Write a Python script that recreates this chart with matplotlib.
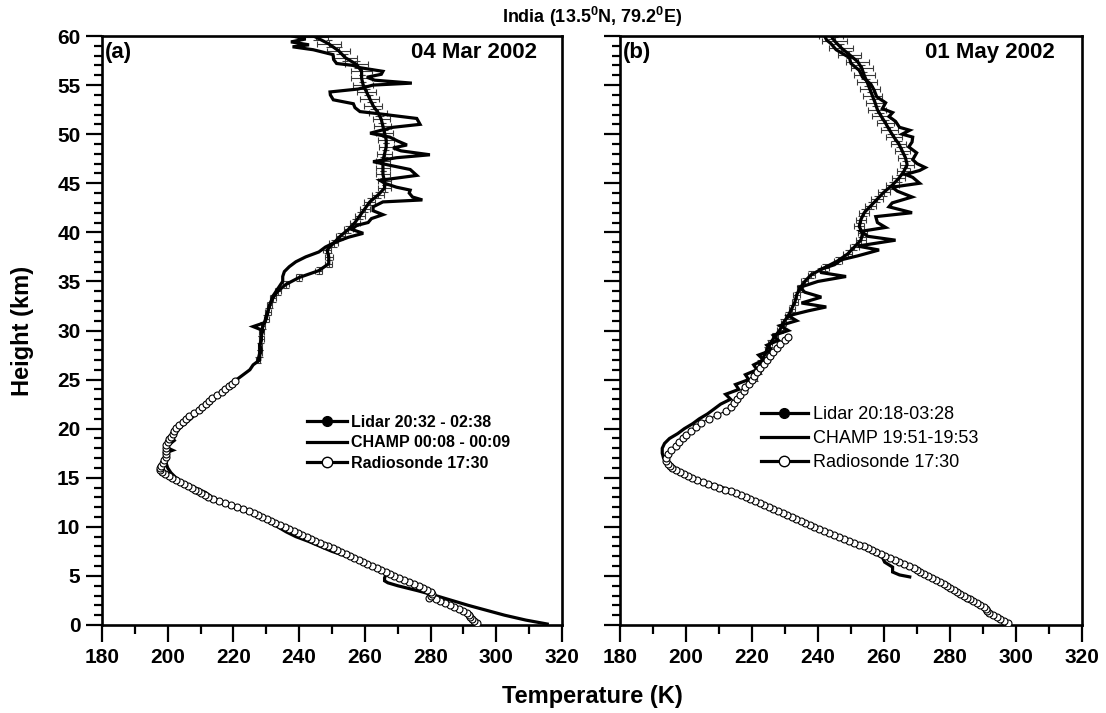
import matplotlib
matplotlib.use("Agg")
import matplotlib.pyplot as plt
from matplotlib.lines import Line2D
from matplotlib.ticker import MultipleLocator

plt.rcParams['font.family'] = ['Liberation Sans', 'DejaVu Sans']
plt.rcParams['mathtext.fontset'] = 'custom'
plt.rcParams['mathtext.bf'] = 'Liberation Sans:bold'
plt.rcParams['mathtext.rm'] = 'Liberation Sans:bold'

# ---------------- Panel (a) 04 Mar 2002 ----------------
radio_a_h = [0.2, 0.4, 0.6, 0.8, 1.0, 1.2, 1.4, 1.6, 1.8, 2.0, 2.2, 2.4, 2.6, 2.8, 3.0, 3.2, 3.4,
             3.6, 3.8, 4.0, 4.2, 4.4, 4.6, 4.8, 5.0, 5.2, 5.4, 5.6, 5.8, 6.0, 6.2, 6.4, 6.6, 6.8,
             7.0, 7.2, 7.4, 7.6, 7.8, 8.0, 8.2, 8.4, 8.6, 8.8, 9.0, 9.2, 9.4, 9.6, 9.8, 10.0,
             10.2, 10.4, 10.6, 10.8, 11.0, 11.2, 11.4, 11.6, 11.8, 12.0, 12.2, 12.4, 12.6, 12.8,
             13.0, 13.2, 13.4, 13.6, 13.8, 14.0, 14.2, 14.4, 14.6, 14.8, 15.0, 15.2, 15.4, 15.6,
             15.8, 16.0, 16.2, 16.5, 16.8, 17.1, 17.4, 17.7, 18.0, 18.3, 18.6, 18.9, 19.2, 19.5,
             19.8, 20.1, 20.4, 20.7, 21.0, 21.3, 21.6, 21.9, 22.2, 22.5, 22.8, 23.1, 23.4, 23.7,
             24.0, 24.3, 24.6, 24.9]
radio_a_t = [294, 293.3, 292.6, 292, 291.6, 291, 289.8, 288.5, 287.2, 285.8, 284.4, 283, 281.5,
             279.5, 280, 280.5, 280, 279, 277.8, 276.4, 275, 273.5, 272, 270.5, 269, 267.7, 266.4,
             265, 263.6, 262.2, 260.8, 259.5, 258.2, 256.8, 255.5, 254.2, 252.8, 251.5, 250.2,
             248.8, 247.5, 246.2, 244.8, 243.6, 242.4, 241, 239.7, 238.4, 237, 235.6, 234.3,
             232.8, 231.5, 230.2, 228.8, 227.5, 226.2, 224.7, 223, 221.2, 219.3, 217.3, 215.5,
             213.8, 212.4, 211.2, 210.2, 209.3, 208.4, 207.4, 206.3, 205, 203.6, 202.4, 201.3,
             200.3, 199.3, 198.4, 197.8, 197.8, 198, 198.5, 199, 199.5, 199.5, 199.5, 199.5,
             199.5, 200, 200.5, 201, 201.5, 202, 202.5, 203.5, 204.5, 205.5, 206.5, 208, 209.5,
             210.5, 211.5, 212.5, 213.5, 215, 216.5, 217.5, 218.5, 219.5, 220.5]

champ_a_h = [0.1, 0.5, 1.0, 1.5, 2.0, 2.5, 3.0, 3.5, 4.0, 4.3, 4.5, 4.8, 5.2, 5.5, 6.0, 6.5, 7.0, 7.5,
             8.0, 8.5, 9.0, 9.5, 10.0, 10.5, 11.0, 11.5, 12.0, 12.5, 13.0, 13.5, 14.0, 14.5, 15.0,
             15.5, 16.0, 16.5, 17.0, 17.5, 17.8, 18.1, 18.4, 18.8, 19.2, 19.6, 20.0, 20.5, 21.0,
             21.5, 22.0, 22.5, 23.0, 23.5, 24.0, 24.5, 25.0, 25.5, 26.0, 26.5, 27.0, 27.5, 28.0,
             28.5, 29.0, 29.5, 30.0, 30.4, 30.8, 31.5, 32.0, 32.5, 33.0, 33.5, 34.0, 34.5, 35.0,
             35.5, 36.0, 36.5, 37.0, 37.5, 38.0, 38.5, 39.0, 39.5, 39.9, 40.3, 40.7, 41.0, 41.4,
             41.8, 42.2, 42.6, 43.1, 43.3, 43.6, 44.0, 44.3, 44.6, 45.0, 45.3, 45.8, 46.4, 46.8,
             47.2, 47.6, 47.9, 48.3, 48.6, 48.9, 49.3, 49.7, 50.1, 50.4, 50.7, 51.0, 51.6, 52.1,
             52.3, 52.7, 53.1, 53.5, 54.0, 54.3, 54.6, 55.0, 55.2, 55.5, 55.8, 56.1, 56.4, 56.8,
             57.0, 57.2, 57.6, 58.1, 58.6, 58.9, 59.1, 59.4, 59.7, 60.0]
champ_a_t = [315.5, 309, 302.5, 297, 291.5, 286.5, 281.5, 276, 270, 267, 266, 266, 266.5, 265, 262,
             258.5, 254.5, 250, 246.5, 243, 239, 236, 233.5, 231, 228, 224.5, 220.5, 216.5, 213.5,
             211.5, 208, 204.5, 202.5, 201, 200, 199.5, 199.5, 199, 201.5, 199.5, 200.5, 202, 201,
             202.5, 203.5, 205, 207, 208.5, 210.5, 212.5, 214, 216, 217.5, 219, 221, 223, 225,
             226, 228, 228, 228.5, 228, 228.5, 228.5, 229, 226, 229.5, 230, 230.5, 231, 231.5,
             232, 233, 234, 235, 235, 235.5, 237, 239, 242, 246, 248, 251, 255, 259.5, 256,
             257.5, 261, 262, 265.5, 262.5, 262.5, 265.5, 277.5, 274.5, 273.5, 273.8, 269.6, 266,
             264.6, 275.8, 273.8, 268, 262.5, 269.6, 279.8, 271, 268.6, 272.8, 270, 267.6, 261.6,
             265, 268.6, 276.8, 275.8, 263.7, 258.5, 257, 256.5, 250.4, 249.5, 249.4, 258, 262.5,
             274.3, 263, 260.6, 265, 265.5, 258, 256.5, 251.4, 250.5, 250.3, 244.3, 238, 243,
             237.5, 242, 238]

lidar_a_h = [27.0, 27.7, 28.4, 29.1, 29.8, 30.5, 31.2, 31.9, 32.6, 33.3, 34.0, 34.7, 35.4, 36.1,
             36.8, 37.5, 38.2, 38.9, 39.6, 40.3, 41.0, 41.7, 42.4, 43.1, 43.8, 44.5, 45.2, 45.9,
             46.6, 47.3, 48.0, 48.7, 49.4, 50.1, 50.8, 51.5, 52.2, 52.9, 53.6, 54.3, 55.0, 55.7,
             56.4, 57.1, 57.8, 58.5, 59.2, 59.9]
lidar_a_t = [227.5, 228, 228, 228.5, 228.5, 229, 230, 230.5, 231, 232, 233.5, 236, 240, 246, 249,
             249, 248.5, 250.5, 252.5, 255, 257, 258.5, 260, 261.5, 264, 266, 266, 265.5, 265.5,
             265.5, 266, 266.5, 266.5, 266, 265.5, 265, 264, 262.5, 261.5, 260.5, 259.5, 259,
             259, 257.5, 254, 252, 249, 245]
lidar_a_err = [0.6, 0.6, 0.6, 0.7, 0.7, 0.7, 0.8, 0.8, 0.8, 0.9, 0.9, 1.0, 1.0, 1.1, 1.1, 1.2,
               1.2, 1.3, 1.4, 1.4, 1.5, 1.6, 1.6, 1.7, 1.8, 1.9, 2.0, 2.0, 2.1, 2.2, 2.3, 2.3,
               2.4, 2.5, 2.6, 2.6, 2.7, 2.8, 2.9, 3.0, 3.1, 3.2, 3.3, 3.4, 3.5, 3.6, 3.7, 3.8]

# ---------------- Panel (b) 01 May 2002 ----------------
radio_b_h = [0.2, 0.4, 0.6, 0.8, 1.0, 1.2, 1.4, 1.6, 1.8, 2.0, 2.2, 2.4, 2.6, 2.8, 3.0, 3.2, 3.4,
             3.6, 3.8, 4.0, 4.2, 4.4, 4.6, 4.8, 5.0, 5.2, 5.4, 5.6, 5.8, 6.0, 6.2, 6.4, 6.6, 6.8,
             7.0, 7.2, 7.4, 7.6, 7.8, 8.0, 8.2, 8.4, 8.6, 8.8, 9.0, 9.2, 9.4, 9.6, 9.8, 10.0,
             10.2, 10.4, 10.6, 10.8, 11.0, 11.2, 11.4, 11.6, 11.8, 12.0, 12.2, 12.4, 12.6, 12.8,
             13.0, 13.2, 13.4, 13.6, 13.8, 14.0, 14.2, 14.4, 14.6, 14.8, 15.0, 15.2, 15.4, 15.6,
             15.8, 16.0, 16.2, 16.4, 16.7, 17.0, 17.4, 17.8, 18.2, 18.6, 19.0, 19.4, 19.8, 20.2,
             20.6, 21.0, 21.4, 21.8, 22.2, 22.6, 23.0, 23.4, 23.8, 24.2, 24.6, 25.0, 25.4, 25.8,
             26.2, 26.6, 27.0, 27.4, 27.8, 28.2, 28.6, 29.0, 29.3]
radio_b_t = [297.5, 296.4, 295.3, 294.2, 293, 291.8, 291.2, 290.8, 290.4, 289.2, 288.1, 287.1,
             286.1, 285.1, 284.1, 283.1, 282.1, 281.1, 280.1, 279.1, 278.1, 277.1, 275.8, 274.6,
             273.4, 272.2, 271, 270, 269.2, 267.6, 266.1, 264.6, 263.2, 261.8, 260.4, 259, 257.7,
             256.5, 255.2, 253.8, 252.4, 251, 249.5, 248, 246.4, 244.8, 243.2, 241.7, 240.3,
             238.9, 237.5, 236.1, 234.7, 233.3, 232, 230.6, 229.3, 227.9, 226.5, 225.1, 223.7,
             222.3, 220.9, 219.5, 218.1, 216.7, 215.3, 213.7, 211.9, 210.1, 208.4, 206.7, 205,
             203.4, 201.9, 200.5, 199.3, 198.2, 197, 195.9, 195, 194.5, 194, 194, 194.5, 195.5,
             197, 198, 199, 200, 201.5, 203, 204.5, 207, 209.5, 212, 213.5, 214.5, 215.5, 216.5,
             217.5, 218, 219, 220, 220.5, 221.5, 222.5, 223.5, 224.5, 225.5, 226.5, 227.5, 228.5,
             230, 231]

champ_b_h = [4.9, 5.1, 5.4, 5.9, 6.4, 6.9, 7.5, 8.0, 8.7, 9.5, 10.5, 11.5, 12.5, 13.0, 13.5, 14.0,
             14.5, 15.0, 15.5, 16.0, 16.5, 17.0, 17.5, 18.0, 18.5, 19.0, 19.5, 20.0, 20.5, 21.0,
             21.5, 22.0, 22.5, 23.0, 23.5, 24.0, 24.5, 25.0, 25.5, 26.0, 26.5, 27.0, 27.5, 28.0,
             28.5, 29.0, 29.5, 30.0, 30.5, 31.0, 31.5, 32.0, 32.4, 32.8, 33.4, 33.9, 34.4, 35.0,
             35.5, 35.9, 36.2, 36.7, 37.2, 37.6, 38.2, 38.6, 39.2, 39.6, 40.1, 40.5, 41.0, 41.6,
             42.0, 42.6, 43.0, 43.6, 44.2, 44.6, 45.0, 45.6, 45.9, 46.3, 46.6, 47.0, 47.4, 48.1,
             48.7, 49.2, 49.7, 50.0, 50.4, 50.7, 51.3, 51.8, 52.2, 52.6, 53.2, 53.8, 54.5, 55.1,
             55.8, 56.5, 57.2, 57.8, 58.6, 59.2, 59.6, 60.0]
champ_b_t = [267.8, 264.7, 262.6, 262.6, 260.2, 259.5, 256, 253, 247.5, 241.5, 234.5, 227.5, 221,
             218.5, 215, 211, 206, 202, 198, 196, 194.5, 193.2, 192.8, 192.8, 193.5, 195, 197.5,
             199.5, 202, 204, 206.5, 208.5, 210.5, 213.5, 212, 216, 215, 219, 218, 221.5, 220.5,
             223.5, 222, 226, 224.5, 228, 226.5, 231, 228.5, 233.5, 231, 237, 242.5, 235, 241,
             236, 234.5, 240, 248.5, 241, 240.5, 245, 247, 252, 258.5, 252, 263.5, 255, 253,
             260.5, 258, 257.5, 268.5, 261.5, 262.5, 268.5, 264, 262.5, 270.8, 268.7, 266.5,
             270.8, 272.5, 270, 268.7, 269.9, 267.5, 268.5, 268.7, 265.5, 267.8, 264.7, 263.5,
             261.5, 262.6, 259.5, 260.5, 257.8, 257, 256, 253.5, 252.5, 250, 249.5, 245.5, 244,
             242.6, 242]

lidar_b_h = [25.2, 25.9, 26.6, 27.3, 28.0, 28.7, 29.4, 30.1, 30.8, 31.5, 32.2, 32.9, 33.6, 34.3,
             35.0, 35.7, 36.4, 37.1, 37.8, 38.5, 39.2, 39.9, 40.6, 41.3, 42.0, 42.7, 43.4, 44.1,
             44.8, 45.5, 46.2, 46.9, 47.6, 48.3, 49.0, 49.7, 50.4, 51.1, 51.8, 52.5, 53.2, 53.9,
             54.6, 55.3, 56.0, 56.7, 57.4, 58.1, 58.8, 59.5, 60.0]
lidar_b_t = [221, 222, 222.5, 223.5, 224.5, 225.5, 227, 228.5, 229.5, 231, 232, 233, 233.5, 234.5,
             236, 238, 242, 246, 249, 251, 253, 253.5, 252.5, 253, 254, 256, 258, 260, 262.5,
             264.5, 266, 267, 266.5, 265.5, 264.5, 263, 261.7, 260.5, 259.2, 258, 257.3, 256.5,
             255.7, 254.9, 254, 253.3, 252, 249.5, 247, 245, 244]
lidar_b_err = [0.6, 0.6, 0.6, 0.7, 0.7, 0.7, 0.8, 0.8, 0.8, 0.9, 0.9, 1.0, 1.0, 1.0, 1.1, 1.1,
               1.2, 1.2, 1.3, 1.3, 1.4, 1.4, 1.5, 1.6, 1.6, 1.7, 1.8, 1.8, 1.9, 2.0, 2.0, 2.1,
               2.2, 2.3, 2.3, 2.4, 2.5, 2.6, 2.7, 2.7, 2.8, 2.9, 3.0, 3.1, 3.2, 3.3, 3.4, 3.5,
               3.6, 3.7, 3.7]

panel_labels = ["(a)", "(b)"]
dates = ["04 Mar 2002", "01 May 2002"]
legend_a = ["Lidar 20:32 - 02:38", "CHAMP 00:08 - 00:09", "Radiosonde 17:30"]
legend_b = ["Lidar 20:18-03:28", "CHAMP 19:51-19:53", "Radiosonde 17:30"]
title = "India (13.5$^{0}$N, 79.2$^{0}$E)"

W, H = 1106, 713
fig = plt.figure(figsize=(W / 100, H / 100), dpi=100)
bottom = 1 - 625 / H
height = (625 - 36) / H
ax_a = fig.add_axes([102 / W, bottom, 460 / W, height])
ax_b = fig.add_axes([620 / W, bottom, 462 / W, height])


def style(ax, show_ylabels):
    ax.set_xlim(180, 320)
    ax.set_ylim(0, 60)
    ax.xaxis.set_major_locator(MultipleLocator(20))
    ax.xaxis.set_minor_locator(MultipleLocator(10))
    ax.yaxis.set_major_locator(MultipleLocator(5))
    ax.yaxis.set_minor_locator(MultipleLocator(1))
    ax.tick_params(which='both', direction='out', top=False, right=False, width=1.6)
    ax.tick_params(which='major', axis='x', length=12.5, pad=4)
    ax.tick_params(which='minor', axis='x', length=6.5)
    ax.tick_params(which='major', axis='y', length=11.5, pad=4)
    ax.tick_params(which='minor', axis='y', length=6)
    ax.tick_params(labelsize=15)
    for lab in ax.get_xticklabels() + ax.get_yticklabels():
        lab.set_fontweight('bold')
    if not show_ylabels:
        ax.set_yticklabels([])
    for s in ax.spines.values():
        s.set_linewidth(1.9)


def draw(ax, rh, rt, ch, ct, lh, lt, le):
    ax.plot(ct, ch, color='k', lw=2.3, zorder=3, solid_joinstyle='miter')
    ax.errorbar(lt, lh, xerr=le, yerr=0.35, fmt='none', ecolor='#3a3a3a', elinewidth=0.8,
                capsize=2.5, capthick=0.8, zorder=2)
    ax.plot(lt, lh, color='k', lw=2.3, zorder=4)
    ax.plot(rt, rh, color='k', lw=0.8, marker='o', ms=5, mfc='white', mec='k', mew=0.8,
            zorder=5)


style(ax_a, True)
style(ax_b, False)
draw(ax_a, radio_a_h, radio_a_t, champ_a_h, champ_a_t, lidar_a_h, lidar_a_t, lidar_a_err)
draw(ax_b, radio_b_h, radio_b_t, champ_b_h, champ_b_t, lidar_b_h, lidar_b_t, lidar_b_err)


def handles():
    return [Line2D([], [], color='k', lw=2.3, marker='o', ms=7, mfc='k', mec='k'),
            Line2D([], [], color='k', lw=2.3),
            Line2D([], [], color='k', lw=2.3, marker='o', ms=7.5, mfc='white', mec='k', mew=1)]


ax_a.legend(handles(), legend_a, loc='upper left', bbox_to_anchor=(0.445, 0.357),
            frameon=False, prop={'weight': 'bold', 'size': 11.5}, handlelength=2.5,
            handletextpad=0.3, labelspacing=0.35, borderpad=0, borderaxespad=0)
ax_b.legend(handles(), legend_b, loc='upper left', bbox_to_anchor=(0.305, 0.372),
            frameon=False, prop={'size': 13}, handlelength=2.6,
            handletextpad=0.3, labelspacing=0.4, borderpad=0, borderaxespad=0)

for ax, lab, date, xr in [(ax_a, panel_labels[0], dates[0], 0.946),
                          (ax_b, panel_labels[1], dates[1], 0.94)]:
    ax.text(0.006, 0.972, lab, transform=ax.transAxes, ha='left', va='center',
            fontsize=16, fontweight='bold')
    ax.text(xr, 0.972, date, transform=ax.transAxes, ha='right', va='center',
            fontsize=16, fontweight='bold')

fig.text(592 / W, 1 - 17 / H, title, ha='center', va='center', fontsize=13, fontweight='bold')
fig.text(592 / W, 1 - 697 / H, "Temperature (K)", ha='center', va='center', fontsize=17,
         fontweight='bold')
fig.text(22 / W, bottom + height / 2, "Height (km)", ha='center', va='center', fontsize=17,
         fontweight='bold', rotation=90)

fig.savefig("out.png", dpi=100)
